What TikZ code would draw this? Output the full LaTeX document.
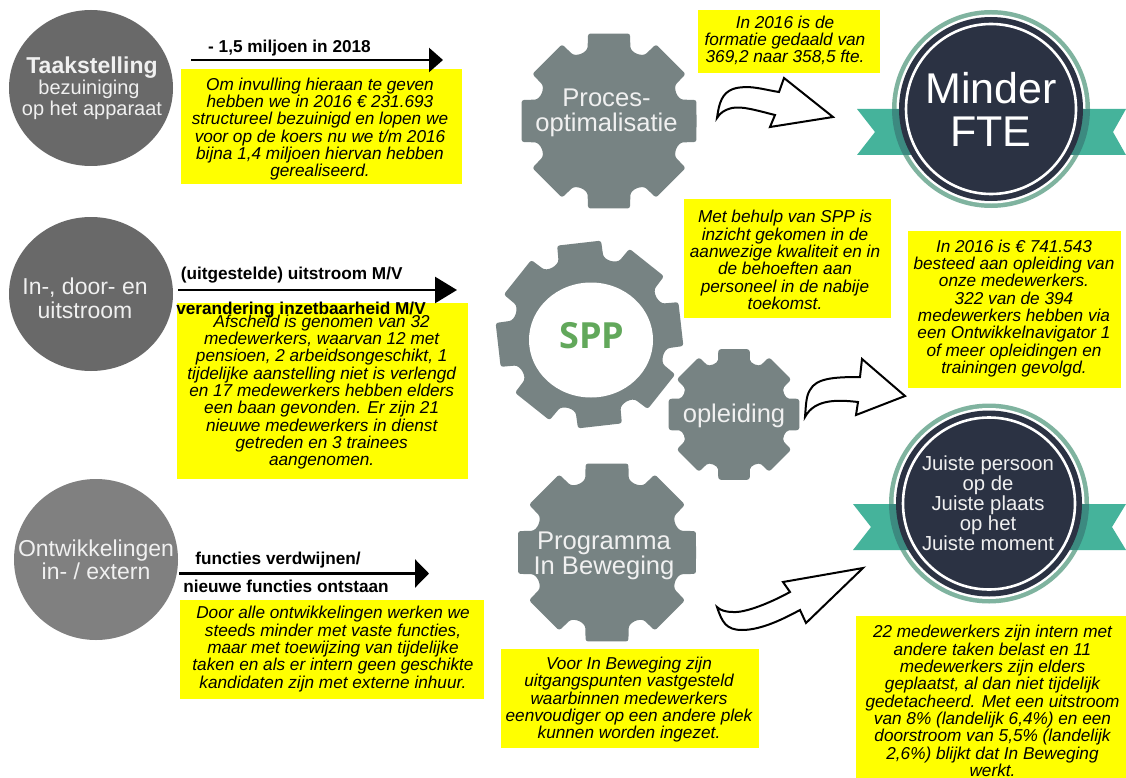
\documentclass[tikz,border=0pt]{standalone}
\usepackage{fontspec}
\setmainfont{Liberation Sans}
\newfontfamily\sppfont{Open Sans}
\usetikzlibrary{arrows.meta}
\definecolor{gearc}{HTML}{778383}
\definecolor{teal1}{HTML}{45B39B}
\definecolor{teal2}{HTML}{3C8A80}
\definecolor{ringc}{HTML}{7FB39F}
\definecolor{navy}{HTML}{2B3243}
\definecolor{yel}{HTML}{FFFF00}
\definecolor{sppgreen}{HTML}{62A85B}
\tikzset{
  body/.style={inner sep=0pt,align=center,text=black,font=\fontsize{17.2}{17.3}\selectfont\itshape},
  yelbox/.style={fill=yel,draw=none},
  headl/.style={inner sep=0pt,align=center,text=black,font=\fontsize{17.2}{17.5}\selectfont\bfseries},
  circletxt/.style={inner sep=0pt,align=center,text=white!94!black},
  geartxt/.style={inner sep=0pt,align=center,text=white!94!black,font=\fontsize{25.6}{25.5}\selectfont},
  bigarrow/.style={line width=2.6pt,draw=black},
  curved/.style={draw=black,fill=white,line width=2pt,line join=miter},
}
% cx cy r rot
\newcommand{\gearshape}[4]{%
  \begin{scope}[shift={(#1,#2)}]
  \fill[gearc,rounded corners=2.5pt] ({#4}:{#3})
    \foreach \a in {0,45,...,315} {
      -- ({#4+\a+13.5}:{#3*1.028}) -- ({#4+\a+15.5}:{#3*.91})
      .. controls ({#4+\a+17.5}:{#3*.82}) and ({#4+\a+27.5}:{#3*.82}) .. ({#4+\a+29.5}:{#3*.91})
      -- ({#4+\a+31.5}:{#3*1.028})
    } -- cycle;
  \end{scope}}
% cx cy R ribbon:x1 notchL notchR x2 ytop ybot
\newcommand{\badgeshape}[9]{%
  \fill[ringc] (#1,#2) circle[radius=#3];
  \fill[white] (#1,#2) circle[radius=#3-4.5];
  \fill[teal1] (#4,#8) -- (#7,#8) -- (#6,{(#8+#9)/2}) -- (#7,#9) -- (#4,#9) -- (#5,{(#8+#9)/2}) -- cycle;
  \begin{scope}
    \clip (#1,#2) circle[radius=#3];
    \fill[teal2] (#4,#8) rectangle (#7,#9);
  \end{scope}
  \fill[navy] (#1,#2) circle[radius=#3-7];
  \draw[white,line width=2.6pt] (#1,#2) circle[radius=#3-14];}
\begin{document}
\begin{tikzpicture}[x=1pt,y=-1pt]
\useasboundingbox (0,0) rectangle (1126,778);
\fill[white] (0,0) rectangle (1126,778);

% left circles
\fill[black!59] (91,88) ellipse[x radius=82,y radius=78];
\fill[black!59] (91,294) ellipse[x radius=82,y radius=77];
\fill[black!50] (96,559.5) ellipse[x radius=82,y radius=80.5];
\node[circletxt,font=\fontsize{23}{23}\selectfont\bfseries] (c1a) at (92,68) {Taakstelling};
\node[circletxt,font=\fontsize{20}{20}\selectfont] (c1b) at (89,89) {bezuiniging};
\node[circletxt,font=\fontsize{20}{20}\selectfont] (c1c) at (92,110) {op het apparaat};
\node[circletxt,font=\fontsize{23}{24}\selectfont] (c2) at (85,298) {In-, door- en\\uitstroom};
\node[circletxt,font=\fontsize{23}{23}\selectfont] (c3) at (96,559.5) {Ontwikkelingen\\in- / extern};

% yellow boxes
\fill[yelbox] (181,69) rectangle (462,184);
\fill[yelbox] (177,303) rectangle (468,479);
\fill[yelbox] (180,600) rectangle (484,699);
\fill[yelbox] (698,10) rectangle (880,73);
\fill[yelbox] (684,199) rectangle (891,318);
\fill[yelbox] (908,231) rectangle (1121,388);
\fill[yelbox] (501,649) rectangle (759,748);
\fill[yelbox] (856,616) rectangle (1126,778);

% straight arrows
\coordinate (a1s) at (191,60); \coordinate (a1e) at (443,60);
\coordinate (a2s) at (178,290); \coordinate (a2e) at (457,290);
\coordinate (a3s) at (179,573.5); \coordinate (a3e) at (429,573.5);
\draw[bigarrow,-{Triangle[length=14pt,width=24pt]}] (a1s) -- (a1e);
\draw[bigarrow,-{Triangle[length=22pt,width=26pt]}] (a2s) -- (a2e);
\draw[bigarrow,-{Triangle[length=14pt,width=28pt]}] (a3s) -- (a3e);

\node[headl] (h1) at (289.5,48) {- 1,5 miljoen in 2018};
\node[headl] (h2) at (291.7,275) {(uitgestelde) uitstroom M/V};
\node[headl] (h3) at (301,310) {verandering inzetbaarheid M/V};
\node[headl] (h4) at (278,560) {functies verdwijnen/};
\node[headl] (h5) at (286,586.7) {nieuwe functies ontstaan};

% body texts
\node[body] (t1) at (320,129) {Om invulling hieraan te geven\\hebben we in 2016 € 231.693\\structureel bezuinigd en lopen we\\voor op de koers nu we t/m 2016\\bijna 1,4 miljoen hiervan hebben\\gerealiseerd.};
\node[body] (t2) at (321.7,392) {Afscheid is genomen van 32\\medewerkers, waarvan 12 met\\pensioen, 2 arbeidsongeschikt, 1\\tijdelijke aanstelling niet is verlengd\\en 17 medewerkers hebben elders\\een baan gevonden. Er zijn 21\\nieuwe medewerkers in dienst\\getreden en 3 trainees\\aangenomen.};
\node[body] (t3) at (333,649) {Door alle ontwikkelingen werken we\\steeds minder met vaste functies,\\maar met toewijzing van tijdelijke\\taken en als er intern geen geschikte\\kandidaten zijn met externe inhuur.};
\node[body] (t4) at (785,40.5) {In 2016 is de\\formatie gedaald van\\369,2 naar 358,5 fte.};
\node[body] (t5) at (785,260) {Met behulp van SPP is\\inzicht gekomen in de\\aanwezige kwaliteit en in\\de behoeften aan\\personeel in de nabije\\toekomst.};
\node[body] (t6) at (1014,308.3) {In 2016 is € 741.543\\besteed aan opleiding van\\onze medewerkers.\\322 van de 394\\medewerkers hebben via\\een Ontwikkelnavigator 1\\of meer opleidingen en\\trainingen gevolgd.};
\node[body] (t7) at (629,699.7) {Voor In Beweging zijn\\uitgangspunten vastgesteld\\waarbinnen medewerkers\\eenvoudiger op een andere plek\\kunnen worden ingezet.};
\node[body] (t8) at (992.5,701) {22 medewerkers zijn intern met\\andere taken belast en 11\\medewerkers zijn elders\\geplaatst, al dan niet tijdelijk\\gedetacheerd. Met een uitstroom\\van 8\% (landelijk 6,4\%) en een\\doorstroom van 5,5\% (landelijk\\2,6\%) blijkt dat In Beweging\\werkt.};

% gears
\gearshape{609}{121}{87.5}{0}
\gearshape{589.5}{334.5}{92}{-6.5}
\fill[white] (591,340) ellipse[x radius=62,y radius=57.5];
\gearshape{734}{414.5}{65.3}{0}
\gearshape{607}{552.5}{89}{0}
\node[geartxt] (g1) at (606.5,113) {Proces-\\optimalisatie};
\node[inner sep=0pt,text=sppgreen,font=\sppfont\fontsize{36}{36}\selectfont\bfseries] (g2) at (592,336) {SPP};
\node[geartxt] (g3) at (734,416) {opleiding};
\node[geartxt] (g4) at (604,556) {Programma\\In Beweging};

% curved outline arrows
\draw[curved] (717,118) .. controls (719,103) and (722,93) .. (733,89)
  .. controls (748,84) and (765,90) .. (779,92) -- (784,78) -- (833,117) -- (770,127) -- (775,115)
  .. controls (755,110) and (742,106) .. (732,108) .. controls (724,110) and (720,113) .. (717,118) -- cycle;
\draw[curved] (805,417) .. controls (806,405) and (806,396) .. (810,390)
  .. controls (816,378) and (835,377) .. (860,377) -- (862,359) -- (905,396) -- (856,415) -- (858,402)
  .. controls (840,400) and (815,398) .. (805,417) -- cycle;
\draw[curved] (717,607) .. controls (722,622) and (726,630) .. (742,630)
  .. controls (762,630) and (785,618) .. (800,610) -- (806,623) -- (863,568) -- (783,582) -- (790,592)
  .. controls (770,603) and (745,613) .. (733,612) .. controls (725,612) and (720,610) .. (717,607) -- cycle;

% badges
\badgeshape{991}{109}{99}{857}{875}{1113}{1126}{109}{155}
\badgeshape{989}{503.5}{100}{853}{871}{1112}{1126}{504}{550}
\node[inner sep=0pt,align=center,text=white,font=\fontsize{43}{43}\selectfont] (b1) at (991,109) {Minder\\FTE};
\node[inner sep=0pt,align=center,text=white!94!black,font=\fontsize{20.3}{20}\selectfont] (b2) at (988,503) {Juiste persoon\\op de\\Juiste plaats\\op het\\Juiste moment};
\end{tikzpicture}
\end{document}
